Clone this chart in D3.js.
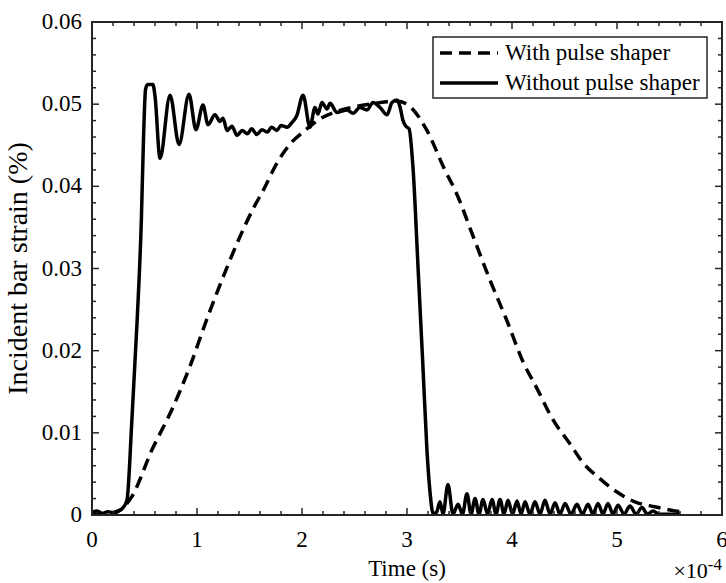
<!DOCTYPE html>
<html>
<head>
<meta charset="utf-8">
<script src="https://cdn.jsdelivr.net/npm/d3@7"></script>
<style>
	body { margin: 0; background: #fff; }
	text { font-family: "Liberation Serif", "Times New Roman", serif; fill: #000; }
</style>
</head>
<body>
<svg id="viz"></svg>
<script>
// tick labels
const xTicks = [0, 1, 2, 3, 4, 5, 6];
const yTicks = [0, 0.01, 0.02, 0.03, 0.04, 0.05, 0.06];

// With pulse shaper (time in 1e-4 s, strain in %)
const shaperTime = [0, 0.1, 0.2, 0.27, 0.378, 0.57, 0.76, 0.93, 1.09, 1.25, 1.41, 1.54, 1.63, 1.76, 1.89, 2.01,
	2.17, 2.35, 2.55, 2.75, 2.9, 3.03, 3.19, 3.36, 3.47, 3.63, 3.79, 3.95, 4.11, 4.23, 4.39, 4.55, 4.68,
	4.83, 5.0, 5.17, 5.36, 5.55, 5.6];
const shaperStrain = [0, 0.0001, 0.0002, 0.0006, 0.0022, 0.0079, 0.0128, 0.018, 0.0237, 0.029, 0.0339, 0.0374, 0.0395, 0.0428, 0.0452, 0.0466,
	0.0482, 0.0492, 0.0498, 0.0502, 0.0504, 0.0497, 0.0468, 0.042, 0.0392, 0.0339, 0.0286, 0.0237, 0.0185, 0.0156, 0.0116, 0.0087, 0.0063,
	0.0045, 0.0028, 0.0016, 0.001, 0.0005, 0.0004];

// Without pulse shaper
const plainTime = [0, 0.05, 0.1, 0.15, 0.2, 0.25, 0.29, 0.333, 0.38, 0.43, 0.47, 0.49, 0.51, 0.53, 0.58, 0.6,
	0.648, 0.743, 0.829, 0.924, 0.99, 1.057, 1.105, 1.171, 1.219, 1.248, 1.286, 1.333, 1.381, 1.43, 1.48, 1.52,
	1.57, 1.62, 1.67, 1.71, 1.76, 1.8, 1.86, 1.9, 1.95, 2.01, 2.076, 2.124, 2.152, 2.19, 2.238, 2.267, 2.333,
	2.429, 2.486, 2.552, 2.619, 2.676, 2.743, 2.81, 2.857, 2.905, 2.933, 2.962, 2.99, 3.02, 3.057, 3.105, 3.152,
	3.19, 3.22, 3.248, 3.28, 3.314, 3.343, 3.39, 3.438, 3.486, 3.528, 3.571, 3.61, 3.648, 3.686, 3.724, 3.767,
	3.81, 3.848, 3.886, 3.924, 3.962, 4.005, 4.048, 4.086, 4.124, 4.171, 4.219, 4.267, 4.314, 4.362, 4.41, 4.457,
	4.505, 4.562, 4.619, 4.671, 4.724, 4.771, 4.819, 4.867, 4.914, 4.962, 5.01, 5.067, 5.124, 5.181, 5.238, 5.29,
	5.343, 5.4, 5.6];
const plainStrain = [0.0003, 0.0005, 0.0002, 0.0004, 0.0003, 0.0005, 0.0008, 0.0018, 0.0116, 0.0237, 0.0359, 0.0456, 0.0518, 0.0524, 0.0524, 0.051,
	0.0434, 0.0511, 0.0451, 0.0512, 0.0469, 0.0499, 0.0475, 0.0487, 0.0479, 0.0483, 0.0468, 0.0473, 0.0462, 0.0468, 0.0464, 0.047,
	0.0463, 0.0469, 0.0466, 0.0472, 0.0468, 0.0474, 0.0472, 0.0477, 0.0486, 0.0511, 0.0472, 0.0496, 0.0488, 0.0502, 0.0494, 0.0501, 0.049,
	0.0493, 0.0489, 0.0496, 0.0493, 0.0502, 0.0496, 0.0487, 0.0502, 0.0505, 0.0497, 0.048, 0.0473, 0.047, 0.0423, 0.0302, 0.018,
	0.0079, 0.0027, 0.0002, 0.0003, 0.0016, 0.0001, 0.0037, 0.0001, 0.0013, 0.0001, 0.0026, 0.0001, 0.002, 0.0001, 0.0019, 0.0001,
	0.0019, 0.0001, 0.0019, 0.0001, 0.0018, 0.0001, 0.0017, 0.0001, 0.0016, 0.0001, 0.0016, 0.0001, 0.0018, 0.0001, 0.0015, 0.0001,
	0.0014, 0.0001, 0.0013, 0.0001, 0.0013, 0.0001, 0.0014, 0.0001, 0.0014, 0.0001, 0.0012, 0.0001, 0.0011, 0.0001, 0.0009, 0.0001,
	0.0005, 0.0001, 0.0001];

const legendLabels = ["With pulse shaper", "Without pulse shaper"];

const width = 726;
const height = 583;
const margin = { top: 22, right: 4, bottom: 68, left: 92 };
const plotWidth = width - margin.left - margin.right;
const plotHeight = height - margin.top - margin.bottom;
const axisColor = "#262626";

let translate = function(x, y) {
	return 'translate(' + x + ',' + y + ')';
}

const svg = d3.select("svg#viz")
	.attr("width", width)
	.attr("height", height);

const plot = svg.append("g").attr("transform", translate(margin.left, margin.top));

const x = d3.scaleLinear().domain([0, 6]).range([0, plotWidth]);
const y = d3.scaleLinear().domain([0, 0.06]).range([plotHeight, 0]);

plot.append("clipPath").attr("id", "clip")
	.append("rect").attr("width", plotWidth).attr("height", plotHeight);

const line = d3.line()
	.x(d => x(d[0]))
	.y(d => y(d[1]))
	.curve(d3.curveMonotoneX);

const shaper = shaperTime.map((t, i) => [t, shaperStrain[i]]);
const plain = plainTime.map((t, i) => [t, plainStrain[i]]);

const lines = plot.append("g").attr("clip-path", "url(#clip)");

lines.append("path")
	.datum(plain)
	.attr("fill", "none")
	.attr("stroke", "#000")
	.attr("stroke-width", 3.5)
	.attr("stroke-linejoin", "round")
	.attr("d", line);

lines.append("path")
	.datum(shaper)
	.attr("fill", "none")
	.attr("stroke", "#000")
	.attr("stroke-width", 3.5)
	.attr("stroke-dasharray", "12,7")
	.attr("d", line);

// axes box with inward ticks, minor ticks too
const xMinor = d3.range(0, 6.001, 0.2);
const yMinor = d3.range(0, 0.0601, 0.002);

function drawAxes() {
	let g = plot.append("g").attr("stroke", axisColor).attr("stroke-width", 1.5);

	g.selectAll(".xmin").data(xMinor).join("line")
		.attr("x1", d => x(d)).attr("x2", d => x(d))
		.attr("y1", plotHeight).attr("y2", (d, i) => plotHeight - (i % 5 == 0 ? 7 : 4));
	g.selectAll(".xmint").data(xMinor).join("line")
		.attr("x1", d => x(d)).attr("x2", d => x(d))
		.attr("y1", 0).attr("y2", (d, i) => (i % 5 == 0 ? 7 : 4));

	g.selectAll(".ymin").data(yMinor).join("line")
		.attr("y1", d => y(d)).attr("y2", d => y(d))
		.attr("x1", 0).attr("x2", (d, i) => (i % 5 == 0 ? 7 : 4));
	g.selectAll(".yminr").data(yMinor).join("line")
		.attr("y1", d => y(d)).attr("y2", d => y(d))
		.attr("x1", plotWidth).attr("x2", (d, i) => plotWidth - (i % 5 == 0 ? 7 : 4));

	plot.append("rect")
		.attr("width", plotWidth).attr("height", plotHeight)
		.attr("fill", "none").attr("stroke", axisColor).attr("stroke-width", 2);

	plot.append("g").selectAll("text").data(xTicks).join("text")
		.attr("x", d => x(d)).attr("y", plotHeight + 32)
		.attr("text-anchor", "middle")
		.attr("font-size", 23)
		.text(d => d);

	plot.append("g").selectAll("text").data(yTicks).join("text")
		.attr("x", -10).attr("y", d => y(d) + 7)
		.attr("text-anchor", "end")
		.attr("font-size", 23)
		.text(d => d == 0 ? "0" : d.toFixed(2));

	plot.append("text")
		.attr("x", plotWidth / 2).attr("y", plotHeight + 61)
		.attr("text-anchor", "middle")
		.attr("font-size", 23)
		.text("Time (s)");

	plot.append("text")
		.attr("transform", translate(-65, plotHeight / 2) + " rotate(-90)")
		.attr("text-anchor", "middle")
		.attr("font-size", 28)
		.text("Incident bar strain (%)");

	let exp = plot.append("text")
		.attr("x", plotWidth).attr("y", plotHeight + 63)
		.attr("text-anchor", "end")
		.attr("font-size", 22);
	exp.append("tspan").text("\u00d710");
	exp.append("tspan").attr("dy", -8).attr("font-size", 17).text("-4");
}

function drawLegend() {
	let legend = svg.append("g").attr("transform", translate(433, 37));
	legend.append("rect")
		.attr("width", 274).attr("height", 61)
		.attr("fill", "#fff").attr("stroke", axisColor).attr("stroke-width", 1.5);

	let items = legend.selectAll("g.item").data(legendLabels).join("g")
		.attr("transform", (d, i) => translate(0, 16 + i * 30));
	items.append("line")
		.attr("x1", 7).attr("x2", 65)
		.attr("stroke", "#000").attr("stroke-width", 3.5)
		.attr("stroke-dasharray", (d, i) => i == 0 ? "12,7" : null);
	items.append("text")
		.attr("x", 72).attr("y", 7)
		.attr("font-size", 23)
		.text(d => d);
}

drawAxes();
drawLegend();
</script>
</body>
</html>
